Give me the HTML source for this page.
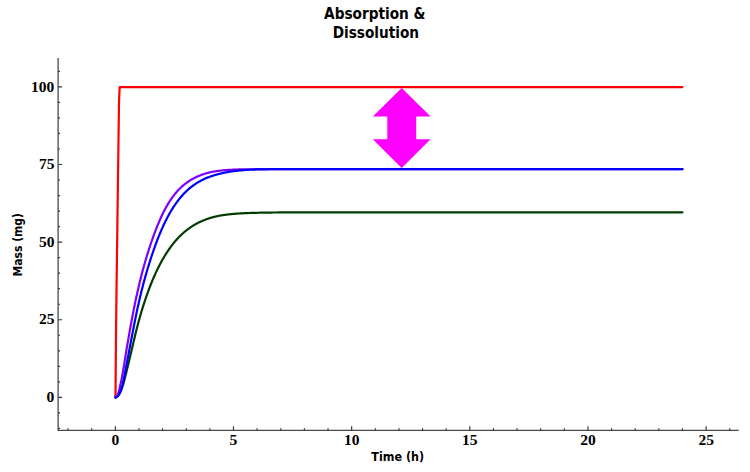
<!DOCTYPE html>
<html lang="en">
<head>
<meta charset="utf-8">
<title>Absorption &amp; Dissolution</title>
<style>
html,body{margin:0;padding:0;background:#fff;}
body{width:750px;height:472px;overflow:hidden;}
svg{display:block;}
.title{font-family:"DejaVu Sans Condensed","DejaVu Sans","Liberation Sans",sans-serif;font-weight:bold;font-size:15.2px;fill:#000;}
.axlab{font-family:"DejaVu Sans Condensed","DejaVu Sans","Liberation Sans",sans-serif;font-weight:bold;font-size:12px;fill:#000;}
.tick text{font-family:"Liberation Serif","DejaVu Serif",serif;font-weight:bold;font-size:13.6px;fill:#000;}
.curve{fill:none;stroke-width:2.2;stroke-linejoin:round;stroke-linecap:round;}
</style>
</head>
<body>
<svg width="750" height="472" viewBox="0 0 750 472">
<rect width="750" height="472" fill="#ffffff"/>
<g class="title" text-anchor="middle">
<text x="374.8" y="19.3">Absorption &amp;</text>
<text x="375.9" y="38.4">Dissolution</text>
</g>
<g fill="none" stroke="#4a4a4a" stroke-width="1.3">
<path d="M58.1,58.0V430.45H738.8"/>
<path stroke="#333" stroke-width="1.15" d="M58.10,428.42h1.9 M58.10,412.89h1.9 M58.10,397.37h4.0 M58.10,381.85h1.9 M58.10,366.32h1.9 M58.10,350.80h1.9 M58.10,335.27h1.9 M58.10,319.75h4.0 M58.10,304.22h1.9 M58.10,288.69h1.9 M58.10,273.17h1.9 M58.10,257.64h1.9 M58.10,242.12h4.0 M58.10,226.59h1.9 M58.10,211.07h1.9 M58.10,195.55h1.9 M58.10,180.02h1.9 M58.10,164.50h4.0 M58.10,148.97h1.9 M58.10,133.44h1.9 M58.10,117.92h1.9 M58.10,102.39h1.9 M58.10,86.87h4.0 M58.10,71.35h1.9 M68.09,430.45v-2.1 M91.72,430.45v-2.1 M115.35,430.45v-4.3 M138.98,430.45v-2.1 M162.61,430.45v-2.1 M186.24,430.45v-2.1 M209.87,430.45v-2.1 M233.50,430.45v-4.3 M257.13,430.45v-2.1 M280.76,430.45v-2.1 M304.39,430.45v-2.1 M328.02,430.45v-2.1 M351.65,430.45v-4.3 M375.28,430.45v-2.1 M398.91,430.45v-2.1 M422.54,430.45v-2.1 M446.17,430.45v-2.1 M469.80,430.45v-4.3 M493.43,430.45v-2.1 M517.06,430.45v-2.1 M540.69,430.45v-2.1 M564.32,430.45v-2.1 M587.95,430.45v-4.3 M611.58,430.45v-2.1 M635.21,430.45v-2.1 M658.84,430.45v-2.1 M682.47,430.45v-2.1 M706.10,430.45v-4.3 M729.73,430.45v-2.1"/>
</g>
<g class="tick"><text x="46.6" y="402.1" textLength="7.8" lengthAdjust="spacingAndGlyphs">0</text><text x="38.9" y="324.4" textLength="15.5" lengthAdjust="spacingAndGlyphs">25</text><text x="38.9" y="246.8" textLength="15.5" lengthAdjust="spacingAndGlyphs">50</text><text x="38.9" y="169.2" textLength="15.5" lengthAdjust="spacingAndGlyphs">75</text><text x="31.1" y="91.6" textLength="23.2" lengthAdjust="spacingAndGlyphs">100</text><text x="111.5" y="445.0" textLength="7.8" lengthAdjust="spacingAndGlyphs">0</text><text x="229.6" y="445.0" textLength="7.8" lengthAdjust="spacingAndGlyphs">5</text><text x="343.9" y="445.0" textLength="15.5" lengthAdjust="spacingAndGlyphs">10</text><text x="462.0" y="445.0" textLength="15.5" lengthAdjust="spacingAndGlyphs">15</text><text x="580.2" y="445.0" textLength="15.5" lengthAdjust="spacingAndGlyphs">20</text><text x="698.4" y="445.0" textLength="15.5" lengthAdjust="spacingAndGlyphs">25</text></g>
<text class="axlab" x="371.3" y="460.6" textLength="52.8" lengthAdjust="spacingAndGlyphs">Time (h)</text>
<text class="axlab" transform="translate(21.9,244.7) rotate(-90)" text-anchor="middle">Mass (mg)</text>
<path class="curve" stroke="#ff0000" stroke-width="2.35" d="M115.50,397.40 L115.95,340.00 L116.40,300.00 L117.70,200.00 L119.00,103.00 L119.30,95.00 L119.55,90.00 L119.70,87.07 L682.47,87.07"/>
<path class="curve" stroke="#003c00" stroke-width="2.25" d="M115.35,397.37 L115.94,397.30 L116.53,397.08 L117.12,396.72 L117.71,396.22 L118.30,395.58 L118.89,394.80 L119.49,393.87 L120.08,392.77 L120.67,391.50 L121.26,390.08 L121.85,388.50 L122.44,386.76 L123.03,384.89 L123.62,382.87 L124.21,380.71 L124.80,378.42 L125.39,376.06 L125.98,373.67 L126.57,371.27 L127.16,368.84 L127.76,366.40 L128.35,363.94 L128.94,361.46 L129.53,358.98 L130.12,356.48 L130.71,353.98 L131.30,351.47 L131.89,348.96 L132.48,346.45 L133.07,343.93 L133.66,341.42 L134.25,338.91 L134.84,336.43 L135.44,333.99 L136.03,331.60 L136.62,329.26 L137.21,326.96 L137.80,324.70 L138.39,322.49 L138.98,320.31 L139.57,318.18 L140.16,316.09 L140.75,314.04 L141.34,312.03 L141.93,310.06 L142.52,308.12 L143.12,306.22 L143.71,304.36 L144.30,302.54 L144.89,300.74 L145.48,298.99 L146.07,297.26 L146.66,295.57 L147.25,293.91 L147.84,292.27 L148.43,290.66 L149.02,289.08 L149.61,287.53 L150.20,286.00 L150.79,284.50 L151.39,283.02 L151.98,281.57 L152.57,280.15 L153.16,278.75 L153.75,277.38 L154.34,276.03 L154.93,274.70 L155.52,273.40 L156.11,272.12 L156.70,270.86 L157.29,269.63 L157.88,268.41 L158.47,267.22 L159.07,266.06 L159.66,264.91 L160.25,263.78 L160.84,262.68 L161.43,261.60 L162.02,260.53 L162.61,259.49 L163.20,258.46 L163.79,257.45 L164.38,256.47 L164.97,255.49 L165.56,254.54 L166.15,253.60 L166.75,252.68 L167.34,251.78 L167.93,250.89 L168.52,250.02 L169.11,249.17 L169.70,248.33 L170.29,247.50 L170.88,246.70 L171.47,245.91 L172.06,245.13 L172.65,244.37 L173.24,243.62 L173.83,242.89 L174.42,242.17 L175.02,241.46 L175.61,240.77 L176.20,240.10 L176.79,239.43 L177.38,238.78 L177.97,238.15 L178.56,237.52 L179.15,236.91 L179.74,236.31 L180.33,235.73 L180.92,235.15 L181.51,234.59 L182.10,234.04 L182.70,233.50 L183.29,232.98 L183.88,232.46 L184.47,231.95 L185.06,231.46 L185.65,230.98 L186.24,230.50 L186.83,230.04 L187.42,229.59 L188.01,229.14 L188.60,228.71 L189.19,228.28 L189.78,227.86 L190.38,227.45 L190.97,227.05 L191.56,226.66 L192.15,226.28 L192.74,225.90 L193.33,225.53 L193.92,225.17 L194.51,224.82 L195.10,224.48 L195.69,224.14 L196.28,223.81 L196.87,223.49 L197.46,223.18 L198.06,222.87 L198.65,222.57 L199.24,222.28 L199.83,222.00 L200.42,221.72 L201.01,221.45 L201.60,221.18 L202.19,220.92 L202.78,220.67 L203.37,220.42 L203.96,220.18 L204.55,219.95 L205.14,219.72 L205.73,219.50 L206.33,219.28 L206.92,219.07 L207.51,218.87 L208.10,218.67 L208.69,218.47 L209.28,218.28 L209.87,218.09 L210.46,217.91 L211.05,217.74 L211.64,217.57 L212.23,217.40 L212.82,217.24 L213.41,217.08 L214.01,216.93 L214.60,216.78 L215.19,216.64 L215.78,216.50 L216.37,216.36 L216.96,216.23 L217.55,216.11 L218.14,215.99 L218.73,215.87 L219.32,215.76 L219.91,215.65 L220.50,215.54 L221.09,215.44 L221.69,215.34 L222.28,215.24 L222.87,215.15 L223.46,215.06 L224.05,214.97 L224.64,214.89 L225.23,214.81 L225.82,214.73 L226.41,214.65 L227.00,214.58 L227.59,214.51 L228.18,214.44 L228.77,214.37 L229.36,214.31 L229.96,214.24 L230.55,214.18 L231.14,214.12 L231.73,214.07 L232.32,214.01 L232.91,213.96 L233.50,213.91 L234.09,213.86 L234.68,213.81 L235.27,213.76 L235.86,213.72 L236.45,213.68 L237.04,213.63 L237.64,213.59 L238.23,213.55 L238.82,213.52 L239.41,213.48 L240.00,213.44 L240.59,213.41 L241.18,213.37 L241.77,213.34 L242.36,213.31 L242.95,213.28 L243.54,213.25 L244.13,213.22 L244.72,213.19 L245.31,213.17 L245.91,213.14 L246.50,213.12 L247.09,213.09 L247.68,213.07 L248.27,213.05 L248.86,213.02 L249.45,213.00 L250.04,212.98 L250.63,212.96 L251.22,212.94 L251.81,212.92 L252.40,212.90 L252.99,212.89 L253.59,212.87 L254.18,212.85 L254.77,212.84 L255.36,212.82 L255.95,212.81 L256.54,212.79 L257.13,212.78 L257.72,212.76 L258.31,212.75 L258.90,212.74 L259.49,212.72 L260.08,212.71 L260.67,212.70 L261.27,212.69 L261.86,212.68 L262.45,212.67 L263.04,212.66 L263.63,212.65 L264.22,212.64 L264.81,212.63 L265.40,212.62 L265.99,212.61 L266.58,212.60 L267.17,212.59 L267.76,212.58 L268.35,212.57 L268.94,212.57 L269.54,212.56 L270.13,212.55 L270.72,212.54 L271.31,212.54 L271.90,212.53 L272.49,212.52 L273.08,212.52 L273.67,212.51 L274.26,212.51 L274.85,212.50 L275.44,212.49 L276.03,212.49 L276.62,212.48 L277.22,212.48 L277.81,212.47 L278.40,212.47 L278.99,212.46 L279.58,212.46 L280.17,212.46 L280.76,212.45 L281.35,212.45 L281.94,212.44 L282.53,212.44 L283.12,212.44 L283.71,212.43 L284.30,212.43 L284.90,212.42 L285.49,212.42 L286.08,212.42 L286.67,212.42 L287.26,212.41 L287.85,212.41 L288.44,212.41 L289.03,212.40 L289.62,212.40 L290.21,212.40 L290.80,212.40 L291.39,212.39 L291.98,212.39 L292.57,212.39 L293.17,212.39 L293.76,212.38 L294.35,212.38 L294.94,212.38 L295.53,212.38 L296.12,212.38 L296.71,212.37 L297.30,212.37 L297.89,212.37 L298.48,212.37 L299.07,212.37 L299.66,212.37 L300.25,212.36 L300.85,212.36 L301.44,212.36 L302.03,212.36 L302.62,212.36 L303.21,212.36 L303.80,212.36 L304.39,212.35 L306.75,212.35 L313.12,212.34 L319.49,212.33 L325.86,212.33 L332.23,212.32 L338.59,212.32 L344.96,212.32 L351.33,212.32 L357.70,212.31 L364.07,212.31 L370.43,212.31 L376.80,212.31 L383.17,212.31 L389.54,212.31 L395.91,212.31 L402.27,212.31 L408.64,212.31 L415.01,212.31 L421.38,212.31 L427.75,212.31 L434.11,212.31 L440.48,212.31 L446.85,212.31 L453.22,212.31 L459.59,212.31 L465.96,212.31 L472.32,212.31 L478.69,212.31 L485.06,212.31 L491.43,212.31 L497.80,212.31 L504.16,212.31 L510.53,212.31 L516.90,212.31 L523.27,212.31 L529.64,212.31 L536.00,212.31 L542.37,212.31 L548.74,212.31 L555.11,212.31 L561.48,212.31 L567.84,212.31 L574.21,212.31 L580.58,212.31 L586.95,212.31 L593.32,212.31 L599.68,212.31 L606.05,212.31 L612.42,212.31 L618.79,212.31 L625.16,212.31 L631.53,212.31 L637.89,212.31 L644.26,212.31 L650.63,212.31 L657.00,212.31 L663.37,212.31 L669.73,212.31 L676.10,212.31 L682.47,212.31"/>
<path class="curve" stroke="#8000ff" stroke-width="2.4" d="M115.35,397.37 L115.94,397.18 L116.53,396.63 L117.12,395.71 L117.71,394.42 L118.30,392.78 L118.89,390.79 L119.49,388.53 L120.08,386.07 L120.67,383.44 L121.26,380.62 L121.85,377.63 L122.44,374.48 L123.03,371.18 L123.62,367.74 L124.21,364.15 L124.80,360.45 L125.39,356.71 L125.98,353.03 L126.57,349.40 L127.16,345.83 L127.76,342.31 L128.35,338.85 L128.94,335.44 L129.53,332.08 L130.12,328.78 L130.71,325.53 L131.30,322.33 L131.89,319.18 L132.48,316.08 L133.07,313.04 L133.66,310.04 L134.25,307.09 L134.84,304.20 L135.44,301.36 L136.03,298.57 L136.62,295.84 L137.21,293.16 L137.80,290.53 L138.39,287.95 L138.98,285.43 L139.57,282.95 L140.16,280.52 L140.75,278.13 L141.34,275.80 L141.93,273.51 L142.52,271.26 L143.12,269.06 L143.71,266.90 L144.30,264.78 L144.89,262.71 L145.48,260.67 L146.07,258.68 L146.66,256.72 L147.25,254.79 L147.84,252.88 L148.43,251.00 L149.02,249.15 L149.61,247.33 L150.20,245.53 L150.79,243.76 L151.39,242.01 L151.98,240.30 L152.57,238.61 L153.16,236.95 L153.75,235.31 L154.34,233.71 L154.93,232.13 L155.52,230.57 L156.11,229.05 L156.70,227.55 L157.29,226.08 L157.88,224.63 L158.47,223.21 L159.07,221.82 L159.66,220.45 L160.25,219.11 L160.84,217.79 L161.43,216.50 L162.02,215.24 L162.61,214.00 L163.20,212.79 L163.79,211.61 L164.38,210.45 L164.97,209.33 L165.56,208.23 L166.15,207.15 L166.75,206.11 L167.34,205.08 L167.93,204.09 L168.52,203.11 L169.11,202.17 L169.70,201.24 L170.29,200.34 L170.88,199.46 L171.47,198.60 L172.06,197.76 L172.65,196.95 L173.24,196.15 L173.83,195.38 L174.42,194.63 L175.02,193.89 L175.61,193.18 L176.20,192.48 L176.79,191.80 L177.38,191.14 L177.97,190.49 L178.56,189.86 L179.15,189.25 L179.74,188.66 L180.33,188.08 L180.92,187.52 L181.51,186.97 L182.10,186.43 L182.70,185.91 L183.29,185.41 L183.88,184.92 L184.47,184.44 L185.06,183.98 L185.65,183.52 L186.24,183.08 L186.83,182.65 L187.42,182.24 L188.01,181.83 L188.60,181.43 L189.19,181.04 L189.78,180.65 L190.38,180.28 L190.97,179.92 L191.56,179.57 L192.15,179.22 L192.74,178.88 L193.33,178.56 L193.92,178.24 L194.51,177.93 L195.10,177.63 L195.69,177.33 L196.28,177.05 L196.87,176.77 L197.46,176.50 L198.06,176.24 L198.65,175.98 L199.24,175.73 L199.83,175.49 L200.42,175.26 L201.01,175.03 L201.60,174.81 L202.19,174.60 L202.78,174.40 L203.37,174.20 L203.96,174.00 L204.55,173.82 L205.14,173.64 L205.73,173.46 L206.33,173.29 L206.92,173.13 L207.51,172.97 L208.10,172.81 L208.69,172.67 L209.28,172.52 L209.87,172.39 L210.46,172.25 L211.05,172.12 L211.64,172.00 L212.23,171.88 L212.82,171.77 L213.41,171.66 L214.01,171.55 L214.60,171.45 L215.19,171.35 L215.78,171.25 L216.37,171.16 L216.96,171.07 L217.55,170.99 L218.14,170.90 L218.73,170.83 L219.32,170.75 L219.91,170.68 L220.50,170.61 L221.09,170.54 L221.69,170.48 L222.28,170.42 L222.87,170.36 L223.46,170.30 L224.05,170.25 L224.64,170.20 L225.23,170.15 L225.82,170.10 L226.41,170.06 L227.00,170.01 L227.59,169.97 L228.18,169.93 L228.77,169.89 L229.36,169.86 L229.96,169.82 L230.55,169.79 L231.14,169.76 L231.73,169.73 L232.32,169.70 L232.91,169.67 L233.50,169.65 L234.09,169.62 L234.68,169.60 L235.27,169.57 L235.86,169.55 L236.45,169.53 L237.04,169.51 L237.64,169.49 L238.23,169.47 L238.82,169.46 L239.41,169.44 L240.00,169.43 L240.59,169.41 L241.18,169.40 L241.77,169.38 L242.36,169.37 L242.95,169.36 L243.54,169.35 L244.13,169.34 L244.72,169.33 L245.31,169.32 L245.91,169.31 L246.50,169.30 L247.09,169.29 L247.68,169.28 L248.27,169.28 L248.86,169.27 L249.45,169.26 L250.04,169.26 L250.63,169.25 L251.22,169.24 L251.81,169.24 L252.40,169.23 L252.99,169.23 L253.59,169.23 L254.18,169.22 L254.77,169.22 L255.36,169.21 L255.95,169.21 L256.54,169.21 L257.13,169.20 L257.72,169.20 L258.31,169.20 L258.90,169.19 L259.49,169.19 L260.08,169.19 L260.67,169.19 L261.27,169.19 L261.86,169.18 L262.45,169.18 L263.04,169.18 L263.63,169.18 L264.22,169.18 L264.81,169.17 L265.40,169.17 L265.99,169.17 L266.58,169.17 L267.17,169.17 L267.76,169.17 L268.35,169.17 L268.94,169.17 L269.54,169.17 L270.13,169.17 L270.72,169.16 L271.31,169.16 L271.90,169.16 L272.49,169.16 L273.08,169.16 L273.67,169.16 L274.26,169.16 L274.85,169.16 L275.44,169.16 L276.03,169.16 L276.62,169.16 L277.22,169.16 L277.81,169.16 L278.40,169.16 L278.99,169.16 L279.58,169.16 L280.17,169.16 L280.76,169.16 L281.35,169.16 L281.94,169.16 L282.53,169.16 L283.12,169.16 L283.71,169.16 L284.30,169.16 L284.90,169.16 L285.49,169.16 L286.08,169.15 L286.67,169.15 L287.26,169.15 L287.85,169.15 L288.44,169.15 L289.03,169.15 L289.62,169.15 L290.21,169.15 L290.80,169.15 L291.39,169.15 L291.98,169.15 L292.57,169.15 L293.17,169.15 L293.76,169.15 L294.35,169.15 L294.94,169.15 L295.53,169.15 L296.12,169.15 L296.71,169.15 L297.30,169.15 L297.89,169.15 L298.48,169.15 L299.07,169.15 L299.66,169.15 L300.25,169.15 L300.85,169.15 L301.44,169.15 L302.03,169.15 L302.62,169.15 L303.21,169.15 L303.80,169.15 L304.39,169.15 L306.75,169.15 L313.12,169.15 L319.49,169.15 L325.86,169.15 L332.23,169.15 L338.59,169.15 L344.96,169.15 L351.33,169.15 L357.70,169.15 L364.07,169.15 L370.43,169.15 L376.80,169.15 L383.17,169.15 L389.54,169.15 L395.91,169.15 L402.27,169.15 L408.64,169.15 L415.01,169.15 L421.38,169.15 L427.75,169.15 L434.11,169.15 L440.48,169.15 L446.85,169.15 L453.22,169.15 L459.59,169.15 L465.96,169.15 L472.32,169.15 L478.69,169.15 L485.06,169.15 L491.43,169.15 L497.80,169.15 L504.16,169.15 L510.53,169.15 L516.90,169.15 L523.27,169.15 L529.64,169.15 L536.00,169.15 L542.37,169.15 L548.74,169.15 L555.11,169.15 L561.48,169.15 L567.84,169.15 L574.21,169.15 L580.58,169.15 L586.95,169.15 L593.32,169.15 L599.68,169.15 L606.05,169.15 L612.42,169.15 L618.79,169.15 L625.16,169.15 L631.53,169.15 L637.89,169.15 L644.26,169.15 L650.63,169.15 L657.00,169.15 L663.37,169.15 L669.73,169.15 L676.10,169.15 L682.47,169.15"/>
<path class="curve" stroke="#0000ff" stroke-width="2.5" d="M115.35,397.37 L115.94,397.29 L116.53,397.05 L117.12,396.66 L117.71,396.11 L118.30,395.40 L118.89,394.54 L119.49,393.49 L120.08,392.19 L120.67,390.66 L121.26,388.89 L121.85,386.90 L122.44,384.70 L123.03,382.28 L123.62,379.66 L124.21,376.84 L124.80,373.83 L125.39,370.73 L125.98,367.63 L126.57,364.51 L127.16,361.39 L127.76,358.27 L128.35,355.15 L128.94,352.03 L129.53,348.91 L130.12,345.79 L130.71,342.69 L131.30,339.58 L131.89,336.49 L132.48,333.41 L133.07,330.34 L133.66,327.28 L134.25,324.24 L134.84,321.24 L135.44,318.29 L136.03,315.41 L136.62,312.57 L137.21,309.80 L137.80,307.07 L138.39,304.40 L138.98,301.79 L139.57,299.22 L140.16,296.70 L140.75,294.23 L141.34,291.81 L141.93,289.44 L142.52,287.11 L143.12,284.83 L143.71,282.59 L144.30,280.40 L144.89,278.24 L145.48,276.13 L146.07,274.07 L146.66,272.03 L147.25,270.02 L147.84,268.05 L148.43,266.10 L149.02,264.18 L149.61,262.28 L150.20,260.42 L150.79,258.58 L151.39,256.77 L151.98,254.98 L152.57,253.23 L153.16,251.50 L153.75,249.80 L154.34,248.12 L154.93,246.47 L155.52,244.85 L156.11,243.25 L156.70,241.68 L157.29,240.13 L157.88,238.61 L158.47,237.12 L159.07,235.65 L159.66,234.20 L160.25,232.78 L160.84,231.38 L161.43,230.01 L162.02,228.66 L162.61,227.34 L163.20,226.03 L163.79,224.76 L164.38,223.51 L164.97,222.28 L165.56,221.08 L166.15,219.89 L166.75,218.74 L167.34,217.60 L167.93,216.49 L168.52,215.40 L169.11,214.33 L169.70,213.28 L170.29,212.26 L170.88,211.25 L171.47,210.27 L172.06,209.30 L172.65,208.36 L173.24,207.43 L173.83,206.52 L174.42,205.64 L175.02,204.77 L175.61,203.92 L176.20,203.08 L176.79,202.26 L177.38,201.47 L177.97,200.68 L178.56,199.92 L179.15,199.17 L179.74,198.43 L180.33,197.72 L180.92,197.02 L181.51,196.33 L182.10,195.66 L182.70,195.00 L183.29,194.36 L183.88,193.73 L184.47,193.11 L185.06,192.51 L185.65,191.92 L186.24,191.35 L186.83,190.79 L187.42,190.24 L188.01,189.70 L188.60,189.18 L189.19,188.67 L189.78,188.17 L190.38,187.68 L190.97,187.20 L191.56,186.73 L192.15,186.28 L192.74,185.83 L193.33,185.40 L193.92,184.98 L194.51,184.56 L195.10,184.16 L195.69,183.76 L196.28,183.38 L196.87,183.00 L197.46,182.64 L198.06,182.28 L198.65,181.93 L199.24,181.59 L199.83,181.26 L200.42,180.93 L201.01,180.62 L201.60,180.31 L202.19,180.01 L202.78,179.71 L203.37,179.43 L203.96,179.15 L204.55,178.88 L205.14,178.61 L205.73,178.35 L206.33,178.10 L206.92,177.85 L207.51,177.61 L208.10,177.38 L208.69,177.15 L209.28,176.93 L209.87,176.71 L210.46,176.50 L211.05,176.30 L211.64,176.10 L212.23,175.90 L212.82,175.71 L213.41,175.53 L214.01,175.35 L214.60,175.17 L215.19,175.00 L215.78,174.83 L216.37,174.67 L216.96,174.50 L217.55,174.34 L218.14,174.19 L218.73,174.03 L219.32,173.88 L219.91,173.74 L220.50,173.59 L221.09,173.45 L221.69,173.31 L222.28,173.18 L222.87,173.05 L223.46,172.92 L224.05,172.79 L224.64,172.67 L225.23,172.55 L225.82,172.44 L226.41,172.32 L227.00,172.21 L227.59,172.10 L228.18,172.00 L228.77,171.90 L229.36,171.80 L229.96,171.70 L230.55,171.61 L231.14,171.52 L231.73,171.43 L232.32,171.34 L232.91,171.26 L233.50,171.18 L234.09,171.10 L234.68,171.02 L235.27,170.95 L235.86,170.88 L236.45,170.81 L237.04,170.74 L237.64,170.68 L238.23,170.62 L238.82,170.55 L239.41,170.50 L240.00,170.44 L240.59,170.39 L241.18,170.33 L241.77,170.28 L242.36,170.23 L242.95,170.19 L243.54,170.14 L244.13,170.10 L244.72,170.06 L245.31,170.02 L245.91,169.98 L246.50,169.94 L247.09,169.90 L247.68,169.87 L248.27,169.84 L248.86,169.80 L249.45,169.77 L250.04,169.74 L250.63,169.72 L251.22,169.69 L251.81,169.66 L252.40,169.64 L252.99,169.61 L253.59,169.59 L254.18,169.57 L254.77,169.55 L255.36,169.53 L255.95,169.51 L256.54,169.49 L257.13,169.48 L257.72,169.46 L258.31,169.44 L258.90,169.43 L259.49,169.41 L260.08,169.40 L260.67,169.39 L261.27,169.38 L261.86,169.36 L262.45,169.35 L263.04,169.34 L263.63,169.33 L264.22,169.32 L264.81,169.32 L265.40,169.31 L265.99,169.30 L266.58,169.29 L267.17,169.28 L267.76,169.28 L268.35,169.27 L268.94,169.27 L269.54,169.26 L270.13,169.25 L270.72,169.25 L271.31,169.24 L271.90,169.24 L272.49,169.23 L273.08,169.23 L273.67,169.23 L274.26,169.22 L274.85,169.22 L275.44,169.22 L276.03,169.21 L276.62,169.21 L277.22,169.21 L277.81,169.20 L278.40,169.20 L278.99,169.20 L279.58,169.20 L280.17,169.19 L280.76,169.19 L281.35,169.19 L281.94,169.19 L282.53,169.19 L283.12,169.18 L283.71,169.18 L284.30,169.18 L284.90,169.18 L285.49,169.18 L286.08,169.18 L286.67,169.18 L287.26,169.17 L287.85,169.17 L288.44,169.17 L289.03,169.17 L289.62,169.17 L290.21,169.17 L290.80,169.17 L291.39,169.17 L291.98,169.17 L292.57,169.17 L293.17,169.17 L293.76,169.16 L294.35,169.16 L294.94,169.16 L295.53,169.16 L296.12,169.16 L296.71,169.16 L297.30,169.16 L297.89,169.16 L298.48,169.16 L299.07,169.16 L299.66,169.16 L300.25,169.16 L300.85,169.16 L301.44,169.16 L302.03,169.16 L302.62,169.16 L303.21,169.16 L303.80,169.16 L304.39,169.16 L306.75,169.16 L313.12,169.15 L319.49,169.15 L325.86,169.15 L332.23,169.15 L338.59,169.15 L344.96,169.15 L351.33,169.15 L357.70,169.15 L364.07,169.15 L370.43,169.15 L376.80,169.15 L383.17,169.15 L389.54,169.15 L395.91,169.15 L402.27,169.15 L408.64,169.15 L415.01,169.15 L421.38,169.15 L427.75,169.15 L434.11,169.15 L440.48,169.15 L446.85,169.15 L453.22,169.15 L459.59,169.15 L465.96,169.15 L472.32,169.15 L478.69,169.15 L485.06,169.15 L491.43,169.15 L497.80,169.15 L504.16,169.15 L510.53,169.15 L516.90,169.15 L523.27,169.15 L529.64,169.15 L536.00,169.15 L542.37,169.15 L548.74,169.15 L555.11,169.15 L561.48,169.15 L567.84,169.15 L574.21,169.15 L580.58,169.15 L586.95,169.15 L593.32,169.15 L599.68,169.15 L606.05,169.15 L612.42,169.15 L618.79,169.15 L625.16,169.15 L631.53,169.15 L637.89,169.15 L644.26,169.15 L650.63,169.15 L657.00,169.15 L663.37,169.15 L669.73,169.15 L676.10,169.15 L682.47,169.15"/>
<polygon fill="#ff00ff" points="401.7,88 430.6,116.6 416.2,116.6 416.2,139.2 430.6,139.2 401.7,168 372.8,139.2 387.3,139.2 387.3,116.6 372.8,116.6"/>
</svg>
</body>
</html>
